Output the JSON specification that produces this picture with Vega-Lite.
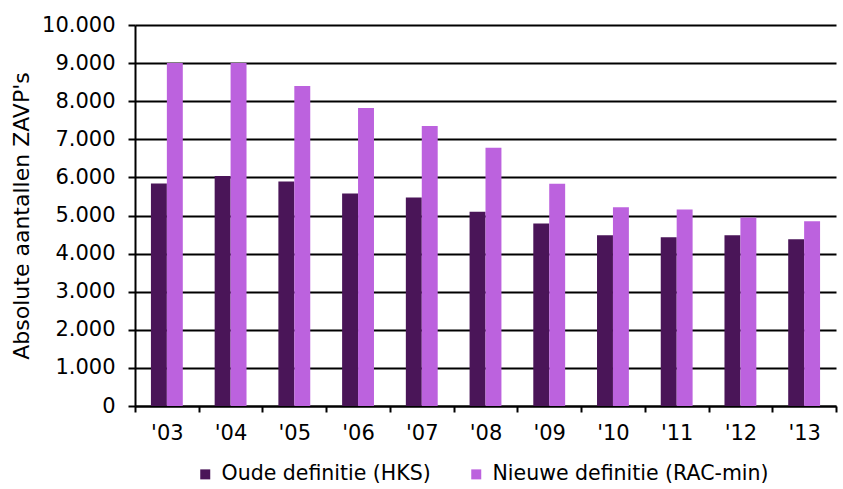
{
  "$schema": "https://vega.github.io/schema/vega-lite/v6.json",
  "width": 701,
  "height": 381,
  "autosize": {"type": "none"},
  "padding": {"left": 135, "top": 25, "right": 7, "bottom": 83},
  "background": "white",
  "data": {
    "values": [
      {"jaar": "'03", "reeks": "Oude definitie (HKS)", "waarde": 5840},
      {"jaar": "'03", "reeks": "Nieuwe definitie (RAC-min)", "waarde": 9000},
      {"jaar": "'04", "reeks": "Oude definitie (HKS)", "waarde": 6040},
      {"jaar": "'04", "reeks": "Nieuwe definitie (RAC-min)", "waarde": 9000},
      {"jaar": "'05", "reeks": "Oude definitie (HKS)", "waarde": 5890},
      {"jaar": "'05", "reeks": "Nieuwe definitie (RAC-min)", "waarde": 8400},
      {"jaar": "'06", "reeks": "Oude definitie (HKS)", "waarde": 5580},
      {"jaar": "'06", "reeks": "Nieuwe definitie (RAC-min)", "waarde": 7820},
      {"jaar": "'07", "reeks": "Oude definitie (HKS)", "waarde": 5470},
      {"jaar": "'07", "reeks": "Nieuwe definitie (RAC-min)", "waarde": 7350},
      {"jaar": "'08", "reeks": "Oude definitie (HKS)", "waarde": 5100},
      {"jaar": "'08", "reeks": "Nieuwe definitie (RAC-min)", "waarde": 6780},
      {"jaar": "'09", "reeks": "Oude definitie (HKS)", "waarde": 4790},
      {"jaar": "'09", "reeks": "Nieuwe definitie (RAC-min)", "waarde": 5835},
      {"jaar": "'10", "reeks": "Oude definitie (HKS)", "waarde": 4480},
      {"jaar": "'10", "reeks": "Nieuwe definitie (RAC-min)", "waarde": 5215},
      {"jaar": "'11", "reeks": "Oude definitie (HKS)", "waarde": 4430},
      {"jaar": "'11", "reeks": "Nieuwe definitie (RAC-min)", "waarde": 5160},
      {"jaar": "'12", "reeks": "Oude definitie (HKS)", "waarde": 4480},
      {"jaar": "'12", "reeks": "Nieuwe definitie (RAC-min)", "waarde": 4950},
      {"jaar": "'13", "reeks": "Oude definitie (HKS)", "waarde": 4375},
      {"jaar": "'13", "reeks": "Nieuwe definitie (RAC-min)", "waarde": 4850}
    ]
  },
  "mark": {"type": "bar"},
  "encoding": {
    "x": {
      "field": "jaar",
      "type": "nominal",
      "sort": null,
      "scale": {"paddingInner": 0, "paddingOuter": 0},
      "axis": {
        "title": null,
        "labelAngle": 0,
        "tickBand": "extent",
        "tickSize": 6,
        "tickWidth": 2,
        "tickColor": "black",
        "domainColor": "black",
        "domainWidth": 2,
        "labelPadding": 10,
        "grid": false
      }
    },
    "xOffset": {
      "field": "reeks",
      "type": "nominal",
      "sort": ["Oude definitie (HKS)", "Nieuwe definitie (RAC-min)"],
      "scale": {"paddingInner": 0, "paddingOuter": 1}
    },
    "y": {
      "field": "waarde",
      "type": "quantitative",
      "scale": {"domain": [0, 10000], "nice": false},
      "axis": {
        "title": "Absolute aantallen ZAVP's",
        "values": [0, 1000, 2000, 3000, 4000, 5000, 6000, 7000, 8000, 9000, 10000],
        "labelExpr": "replace(format(datum.value, ',d'), ',', '.')",
        "grid": true,
        "gridColor": "black",
        "gridWidth": 2,
        "gridOpacity": 1,
        "tickSize": 7,
        "tickWidth": 2,
        "tickColor": "black",
        "domainColor": "black",
        "domainWidth": 2,
        "labelPadding": 13,
        "titlePadding": 8,
        "titleFontSize": 22,
        "titleFontWeight": "normal"
      }
    },
    "color": {
      "field": "reeks",
      "type": "nominal",
      "scale": {
        "domain": ["Oude definitie (HKS)", "Nieuwe definitie (RAC-min)"],
        "range": ["#4a1558", "#bc62de"]
      },
      "legend": {
        "title": null,
        "orient": "none",
        "direction": "horizontal",
        "legendX": 60,
        "legendY": 439,
        "symbolType": "square",
        "symbolSize": 100,
        "symbolStrokeWidth": 0,
        "symbolOpacity": 1,
        "labelOffset": 6,
        "columnPadding": 35
      }
    }
  },
  "config": {
    "view": {"stroke": null},
    "font": "DejaVu Sans",
    "axis": {
      "labelFont": "DejaVu Sans",
      "titleFont": "DejaVu Sans",
      "labelFontSize": 21,
      "labelColor": "black",
      "titleColor": "black"
    },
    "legend": {
      "labelFont": "DejaVu Sans",
      "labelFontSize": 20.5,
      "labelColor": "black",
      "labelLimit": 400
    }
  }
}
